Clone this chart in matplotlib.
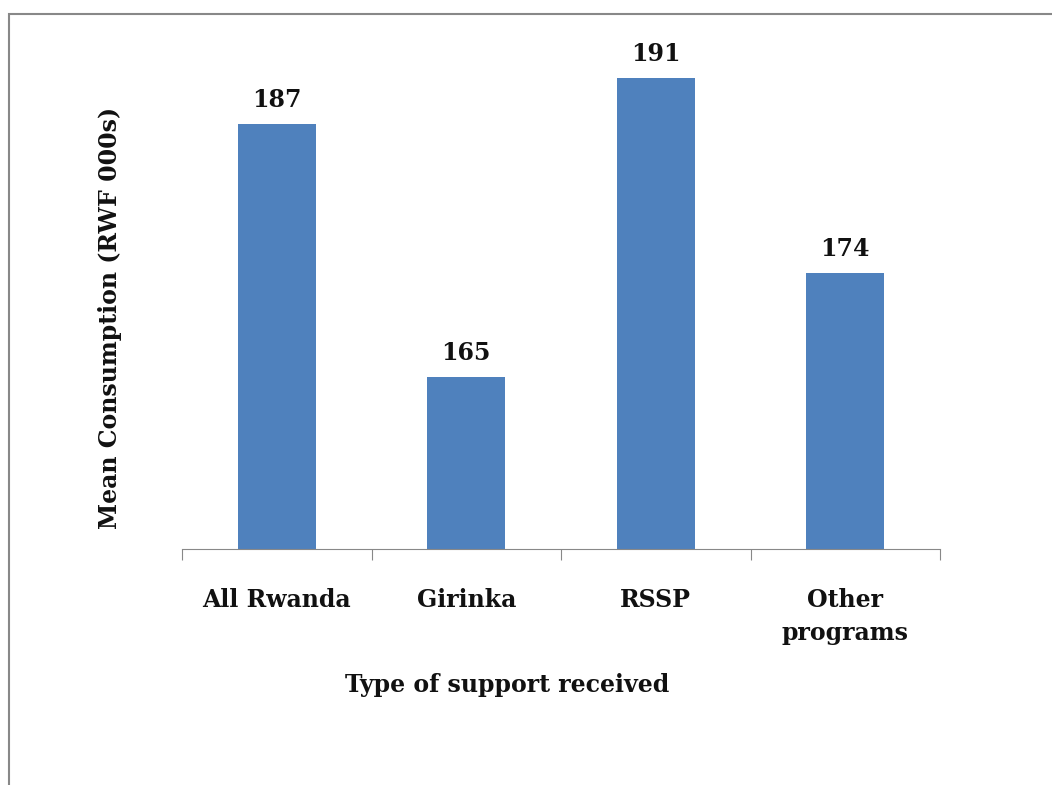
import matplotlib.pyplot as plt
from matplotlib.patches import Rectangle

categories = ['All Rwanda', 'Girinka', 'RSSP', 'Other\nprograms']
values = [187, 165, 191, 174]

plt.rcParams['font.family'] = 'DejaVu Serif'
plt.rcParams['font.weight'] = 'bold'

fig = plt.figure(figsize=(10.52, 7.85), dpi=100)
ax = fig.add_axes([182 / 1052, 1 - 549 / 785, (940 - 182) / 1052, (549 - 20) / 785])

x = list(range(len(categories)))
bars = ax.bar(x, values, width=0.41, color='#4F81BD')
ax.set_xlim(-0.5, len(categories) - 0.5)
ax.set_ylim(150, 196)

for b, v in zip(bars, values):
    ax.text(b.get_x() + b.get_width() / 2, v + 1.0, str(v), ha='center', va='bottom',
            fontsize=17, fontweight='bold', color='#111111')

# only bottom axis line with category separator ticks
for s in ['top', 'right', 'left']:
    ax.spines[s].set_visible(False)
ax.spines['bottom'].set_color('#888888')
ax.set_yticks([])
ax.set_xticks([i - 0.5 for i in range(len(categories) + 1)])
ax.set_xticklabels([])
ax.tick_params(axis='x', direction='out', length=8, color='#888888')
ax.set_xticks(x, minor=True)
ax.set_xticklabels(categories, minor=True, fontsize=17, fontweight='bold', color='#111111')
ax.tick_params(axis='x', which='minor', length=0, pad=28)
for lab in ax.get_xticklabels(minor=True):
    lab.set_verticalalignment('top')
    lab.set_linespacing(1.5)

fig.text(507 / 1052, 1 - 685 / 785, 'Type of support received', ha='center', va='center',
         fontsize=17, fontweight='bold', color='#111111')
fig.text(110 / 1052, 1 - 318 / 785, 'Mean Consumption (RWF 000s)', ha='center', va='center',
         rotation=90, fontsize=17, fontweight='bold', color='#111111')

# outer chart frame
fig.patches.append(Rectangle((9 / 1052, -0.1), 1.2, 1 - 14 / 785 + 0.1, transform=fig.transFigure,
                             fill=False, edgecolor='#888888', linewidth=1.5))

fig.savefig('out.png', dpi=100)
